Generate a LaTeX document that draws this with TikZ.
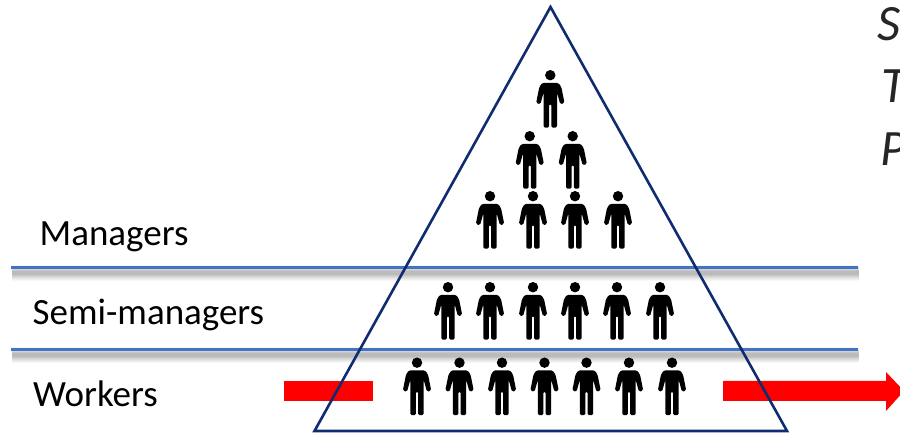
\documentclass[tikz,border=0pt]{standalone}
\usepackage{fontspec}
\setmainfont{Carlito}
\usetikzlibrary{calc}
\definecolor{navytri}{HTML}{0F2D6E}
\definecolor{bandblue}{HTML}{4472C4}
\definecolor{arrowred}{HTML}{FF0000}
\tikzset{
  x=1pt,y=-1pt,
  tierlabel/.style={inner sep=0pt,anchor=base west,font=\fontsize{37}{44}\selectfont,text=black},
  sidelabel/.style={inner sep=0pt,anchor=base west,font=\fontsize{51}{60}\selectfont\itshape,text=black!85},
  tierline/.style={draw=bandblue,line width=3.4pt},
  tri/.style={draw=navytri,line width=2.6pt,line join=miter},
  flow/.style={fill=arrowred,draw=none},
  person/.pic={
    \fill[black] (0,5.2) circle[radius=5.2];
    \fill[black,rounded corners=1.5pt]
      (-1.1,57.7) -- (-1.1,34) -- (1.1,34) -- (1.1,57.7) -- (6.7,57.7) -- (6.7,22.5)
      -- (10,34.3) -- (14.2,33) -- (11,17) -- (8,12.8) -- (-8,12.8) -- (-11,17)
      -- (-14.2,33) -- (-10,34.3) -- (-6.7,22.5) -- (-6.7,57.7) -- cycle;
  }
}
\begin{document}
\begin{tikzpicture}
\useasboundingbox (0,0) rectangle (900,435);
\clip (0,0) rectangle (900,435);
\coordinate (L1a) at (11,267.5); \coordinate (L1b) at (858,267.5);
\coordinate (L2a) at (11,349.5); \coordinate (L2b) at (858,349.5);
% soft shadows of the two tier lines
\foreach \a/\b in {L1a/L1b,L2a/L2b}{
  \foreach \w/\o in {16/.03,14/.03,12/.04,10/.04,8/.05,6/.05,4/.06}{
    \draw[line width=\w pt,black,opacity=\o] ($(\a)+(1,6)$) -- ($(\b)+(1,6)$);
  }
}
\draw[tierline] (L1a) -- (L1b);
\draw[tierline] (L2a) -- (L2b);
% red flow
\fill[flow] (284,381) rectangle (373,401);
\fill[flow] (723,381) -- (886,381) -- (886,372) -- (904,391) -- (886,411) -- (886,401) -- (723,401) -- cycle;
% people
\foreach \x/\y in {550.3/70,
  529.7/131,572.7/131,
  490/191,533/191,575/191,618/191,
  448/282,490/282,533/282,575/282,617/282,660/282,
  417/357.5,459.5/357.5,502/357.5,544.5/357.5,586.5/357.5,629/357.5,672/357.5}{
  \pic at (\x,\y) {person};
}
% pyramid
\coordinate (apex) at (550.5,7);
\coordinate (bl) at (314.5,431);
\coordinate (br) at (787,431);
\draw[tri] (apex) -- (bl) -- (br) -- cycle;
% labels
\node[tierlabel] (mgr) at (39.5,246) {Managers};
\node[tierlabel] (semi) at (32.5,325) {Semi-managers};
\node[tierlabel] (wrk) at (33,407) {Workers};
\node[sidelabel] (s) at (877,41) {S};
\node[sidelabel] (t) at (881,103) {T};
\node[sidelabel] (p) at (880,166) {P};
\end{tikzpicture}
\end{document}
